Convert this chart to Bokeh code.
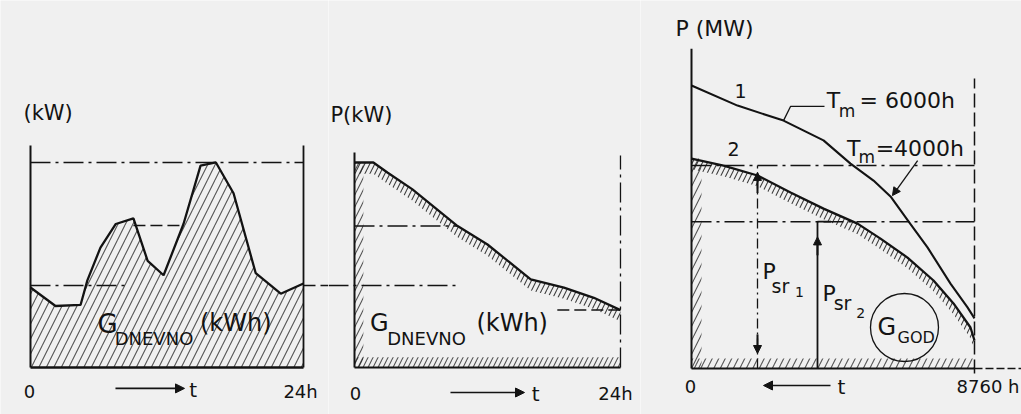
from bokeh.plotting import figure
from bokeh.layouts import row
from bokeh.models import Range1d, Arrow, NormalHead
from bokeh.core.properties import value
from bokeh.embed import file_html
from bokeh.resources import INLINE

# ---------------- data ----------------
# Panel 1: daily load diagram P(t), t in hours, P in kW (relative)
day_hours = [0, 2.2, 4.4, 5.0, 6.15, 7.5, 9.05, 10.3, 11.7, 13.45, 14.95, 16.3, 17.85, 19.8, 22.0, 24]
day_load = [3.9, 3.0, 3.05, 4.25, 5.85, 7.0, 7.27, 5.2, 4.5, 7.0, 9.85, 10.0, 8.5, 4.6, 3.6, 4.1]
day_peak = 10.0
day_mid = 6.93
day_avg = 4.0
day_axis_top = 10.83

# Panel 2: daily load duration curve
dur_hours = [0, 1.7, 3.0, 5.2, 9.3, 12.0, 15.9, 18.9, 21.6, 24]
dur_load = [10.0, 10.0, 9.5, 8.7, 6.9, 6.0, 4.3, 3.9, 3.4, 2.8]
dur_axis_top = 10.49

# Panel 3: yearly load duration curves, t in h, P in MW (relative)
yr_hours_1 = [0, 1424, 2848, 4086, 4922, 5634, 6160, 6717, 7305, 8017, 8544, 8760]
yr_load_1 = [100.0, 92.9, 87.6, 80.6, 72.4, 66.4, 60.8, 52.0, 42.8, 30.0, 21.6, 17.7]
yr_hours_2 = [0, 991, 2043, 3065, 4086, 5139, 5850, 6686, 7491, 8110, 8636, 8760]
yr_load_2 = [74.2, 71.7, 68.2, 62.2, 56.5, 51.2, 45.9, 39.2, 31.1, 23.0, 14.5, 9.9]
psr_levels = [71.7, 51.9]
psr_hours = [2043, 3900]
year_end = 8760
yr_axis_top = 113.0

# ---------------- style ----------------
FONT = value("DejaVu Sans")
BG = "#f0f0f0"
INK = "#131313"
DASHDOT = "20 5 3 5"
H = 414


def make_fig(w, xr, yr):
    p = figure(width=w, height=H, x_range=Range1d(*xr), y_range=Range1d(*yr),
               output_backend="svg", toolbar_location=None, min_border=0,
               x_axis_location=None, y_axis_location=None)
    p.grid.visible = False
    p.outline_line_color = None
    p.background_fill_color = BG
    p.border_fill_color = BG
    return p


def txt(p, x, y, s, size, align="left"):
    p.text(x=[x], y=[y], text=[s], text_font=FONT, text_font_size=f"{size}px",
           text_align=align, text_baseline="middle", text_color=INK)


def hatch_kw(scale=15, alpha=0.75):
    return dict(fill_color=None, hatch_pattern="/", hatch_color=INK,
                hatch_alpha=alpha, hatch_scale=scale, hatch_weight=1.1)


def arrow(p, x0, y0, x1, y1, size=9, lw=1.6):
    p.add_layout(Arrow(end=NormalHead(size=size, fill_color=INK, line_color=INK),
                       x_start=x0, y_start=y0, x_end=x1, y_end=y1,
                       line_color=INK, line_width=lw))


Y12 = (-2.293, 17.902)

# ---------------- panel 1 ----------------
p1 = make_fig(328, (-2.637, 26.198), Y12)
p1.varea(x=day_hours, y1=0, y2=day_load, **hatch_kw(15, 0.7))
p1.line([0, 24], [day_peak, day_peak], line_color=INK, line_width=1.5, line_dash=DASHDOT)
p1.line([day_hours[6], day_hours[9]], [day_mid, day_mid], line_color=INK, line_width=1.5, line_dash="12 5")
p1.line([0, day_hours[5] + 0.8], [day_avg, day_avg], line_color=INK, line_width=1.5, line_dash=DASHDOT)
p1.line([24, 26.198], [day_avg, day_avg], line_color=INK, line_width=1.5, line_dash="12 5")
p1.line(day_hours, day_load, line_color=INK, line_width=2.3)
p1.line([0, 0], [0, day_axis_top], line_color=INK, line_width=2)
p1.line([24, 24], [0, day_axis_top], line_color=INK, line_width=1.8)
p1.line([0, 24], [0, 0], line_color=INK, line_width=2.6)
txt(p1, -0.615, 12.39, "(kW)", 21)
txt(p1, -0.09, -1.17, "0", 18, "center")
txt(p1, 23.74, -1.17, "24h", 18, "center")
arrow(p1, 7.47, -1.02, 13.54, -1.02)
txt(p1, 13.95, -1.1, "t", 20)
txt(p1, 5.9, 2.12, "G", 26)
txt(p1, 7.4, 1.42, "DNEVNO", 18)
txt(p1, 14.9, 2.15, "(kWh)", 24)

# ---------------- panel 2 ----------------
p2 = make_fig(312, (-2.346, 25.806), Y12)
band = 0.55
p2.varea(x=dur_hours, y1=[v - band for v in dur_load], y2=dur_load, **hatch_kw(10, 0.8))
p2.varea(x=[0, 0.8], y1=0, y2=dur_load[0], **hatch_kw(12, 0.7))
p2.varea(x=[0, 24], y1=0, y2=0.5, **hatch_kw(10, 0.7))
p2.line([-2.346, dur_hours[4]], [day_avg, day_avg], line_color=INK, line_width=1.5, line_dash=DASHDOT)
p2.line([0, dur_hours[4]], [dur_load[4], dur_load[4]], line_color=INK, line_width=1.5, line_dash=DASHDOT)
p2.line([18.3, 24], [dur_load[-1], dur_load[-1]], line_color=INK, line_width=1.5, line_dash="12 5")
p2.line([24, 24], [0, 10.34], line_color=INK, line_width=1.3, line_dash=DASHDOT)
p2.line(dur_hours, dur_load, line_color=INK, line_width=2.3)
p2.line([0, 0], [0, dur_axis_top], line_color=INK, line_width=2)
p2.line([0, 24], [0, 0], line_color=INK, line_width=2)
txt(p2, -2.17, 12.34, "P(kW)", 21)
txt(p2, 0.09, -1.27, "0", 18, "center")
txt(p2, 23.55, -1.27, "24h", 18, "center")
arrow(p2, 8.66, -1.22, 15.34, -1.22)
txt(p2, 16.0, -1.27, "t", 20)
txt(p2, 1.4, 2.15, "G", 24)
txt(p2, 2.95, 1.41, "DNEVNO", 18)
txt(p2, 11.0, 2.15, "(kWh)", 24)

# ---------------- panel 3 ----------------
X3_END = 10215
p3 = make_fig(381, (-1578.7, X3_END), (-16.25, 130.04))
b3 = 3.8
p3.varea(x=yr_hours_2, y1=[max(v - b3, 0) for v in yr_load_2], y2=yr_load_2, **hatch_kw(10, 0.8))
p3.varea(x=[0, 310], y1=0, y2=yr_load_2[0], **hatch_kw(14, 0.7))
p3.varea(x=[0, year_end], y1=0, y2=3.5, **hatch_kw(13, 0.7))
for lvl in psr_levels:
    p3.line([0, year_end], [lvl, lvl], line_color=INK, line_width=1.5, line_dash=DASHDOT)
p3.line([psr_hours[0], psr_hours[0]], [0, psr_levels[0]], line_color=INK, line_width=1.3, line_dash="10 4 2 4")
p3.line([psr_hours[1], psr_hours[1]], [0, psr_levels[1]], line_color=INK, line_width=1.8)
p3.line([psr_hours[1], psr_hours[1] + 420], [psr_levels[1], psr_levels[1]], line_color=INK, line_width=1.8)
arrow(p3, psr_hours[0], 62, psr_hours[0], 69.3, size=8, lw=2)
arrow(p3, psr_hours[0], 12, psr_hours[0], 5.3, size=8, lw=2)
arrow(p3, psr_hours[1], 40, psr_hours[1], 46.5, size=8, lw=2)
p3.line([year_end, year_end], [-1.8, 102.5], line_color=INK, line_width=1.5, line_dash="14 5")
p3.line(yr_hours_1, yr_load_1, line_color=INK, line_width=2.1)
p3.line(yr_hours_2, yr_load_2, line_color=INK, line_width=2.3)
p3.line([0, 0], [0, yr_axis_top], line_color=INK, line_width=2)
p3.line([0, year_end], [0, 0], line_color=INK, line_width=2)
p3.line([year_end, X3_END], [0, 0], line_color=INK, line_width=1.5, line_dash="8 3")
# leader to Tm = 6000h and arrow to curve 1
p3.line([yr_hours_1[2], 3065, 4117], [yr_load_1[2], 92.6, 92.6], line_color=INK, line_width=1.3)
arrow(p3, 7000, 73.5, yr_hours_1[6] + 60, yr_load_1[6] + 0.3, size=8, lw=1.3)
# circle around G_GOD
p3.scatter([6593], [14.5], marker="circle", size=68, fill_color=None,
           line_color=INK, line_width=1.3)
txt(p3, -495, 120.1, "P (MW)", 22)
txt(p3, 1517, 98.2, "1", 19, "center")
txt(p3, 1300, 77.7, "2", 19, "center")
txt(p3, 4190, 94.7, "T", 22)
txt(p3, 4560, 91.0, "m", 17)
txt(p3, 5200, 94.7, "= 6000h", 22)
txt(p3, 4810, 77.7, "T", 22)
txt(p3, 5170, 74.9, "m", 17)
txt(p3, 5700, 77.7, "=4000h", 22)
txt(p3, 2198, 34.3, "P", 22)
txt(p3, 2480, 29.3, "sr", 19)
txt(p3, 3200, 27.2, "1", 14)
txt(p3, 4055, 26.5, "P", 22)
txt(p3, 4400, 23.3, "sr", 19)
txt(p3, 5100, 19.6, "2", 14)
txt(p3, 5758, 14.8, "G", 24)
txt(p3, 6377, 11.0, "GOD", 16)
txt(p3, -31, -6.36, "0", 18, "center")
txt(p3, 10153, -6.36, "8760 h", 18, "right")
arrow(p3, 4303, -6.0, 2229, -6.0)
txt(p3, 4520, -6.4, "t", 20)

layout = row(p1, p2, p3)
open("out.html", "w").write(file_html(layout, INLINE))
